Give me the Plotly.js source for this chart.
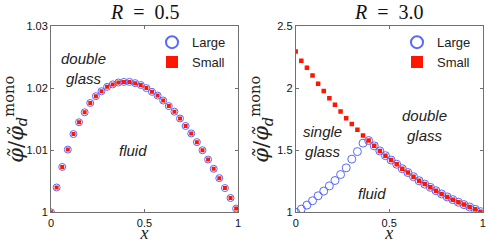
<!DOCTYPE html>
<html><head><meta charset="utf-8">
<script src="https://cdn.plot.ly/plotly-3.0.1.min.js"></script>
<style>html,body{margin:0;padding:0;background:#fff}#chart{width:491px;height:243px}</style>
</head><body><div id="chart"></div>
<script>
const xValues = [0,0.03,0.06,0.09,0.12,0.15,0.18,0.21,0.24,0.27,0.30,0.33,0.36,0.39,0.42,0.45,0.48,0.51,0.54,0.57,0.60,0.63,0.66,0.69,0.72,0.75,0.78,0.81,0.84,0.87,0.90,0.93,0.96,0.99];

// R = 0.5 panel
const leftLarge = [1.0000,1.0040,1.0073,1.0101,1.0126,1.0145,1.0161,1.0176,1.0187,1.0195,1.0202,1.0206,1.0209,1.0210,1.0210,1.0208,1.0205,1.0200,1.0194,1.0188,1.0180,1.0171,1.0162,1.0151,1.0139,1.0127,1.0113,1.0100,1.0085,1.0070,1.0055,1.0039,1.0023,1.0006];
const leftSmall = [1.0000,1.0040,1.0073,1.0101,1.0126,1.0145,1.0161,1.0176,1.0187,1.0195,1.0202,1.0206,1.0209,1.0210,1.0210,1.0208,1.0205,1.0200,1.0194,1.0188,1.0180,1.0171,1.0162,1.0151,1.0139,1.0127,1.0113,1.0100,1.0085,1.0070,1.0055,1.0039,1.0023,1.0006];

// R = 3.0 panel
const rightLarge = [1.000,1.026,1.058,1.093,1.133,1.171,1.213,1.256,1.304,1.358,1.428,1.489,1.557,1.578,1.535,1.494,1.456,1.421,1.387,1.351,1.320,1.287,1.254,1.227,1.201,1.174,1.148,1.124,1.102,1.081,1.062,1.043,1.024,1.005];
const rightSmall = [2.294,2.221,2.163,2.101,2.036,1.977,1.919,1.865,1.811,1.758,1.710,1.664,1.618,1.578,1.535,1.494,1.456,1.421,1.387,1.351,1.320,1.287,1.254,1.227,1.201,1.174,1.148,1.124,1.102,1.081,1.062,1.043,1.024,1.005];

const seriesNames = ['Large', 'Small'];
const panelTitles = ['<i>R</i>\u2002=\u20020.5', '<i>R</i>\u2002=\u20023.0'];
const xTickVals = [0, 0.5, 1];
const leftYTicks = [1, 1.01, 1.02, 1.03];
const rightYTicks = [1, 1.5, 2, 2.5];
const regionLabels = ['<i>double</i><br><i>glass</i>', '<i>fluid</i>', '<i>single</i><br><i>glass</i>', '<i>double</i><br><i>glass</i>', '<i>fluid</i>'];

const blue = '#5868ff';
const red = '#ff1500';
const sans = 'Liberation Sans, Arial, sans-serif';
const serif = 'Liberation Serif, Times New Roman, serif';
const dserif = 'DejaVu Serif, serif';

function largeTrace(y, xa, ya, lg, size) {
  return {x: xValues, y: y, xaxis: xa, yaxis: ya, legend: lg, name: seriesNames[0], type: 'scatter', mode: 'markers',
    marker: {symbol: 'circle-open', size: size, color: blue, line: {width: 1}}};
}
function smallTrace(y, xa, ya, lg, size) {
  return {x: xValues, y: y, xaxis: xa, yaxis: ya, legend: lg, name: seriesNames[1], type: 'scatter', mode: 'markers',
    marker: {symbol: 'square', size: size, color: red, line: {width: 0}}};
}

const data = [
  largeTrace(leftLarge, 'x', 'y', 'legend', 7),
  smallTrace(leftSmall, 'x', 'y', 'legend', 4),
  largeTrace(rightLarge, 'x2', 'y2', 'legend2', 8),
  smallTrace(rightSmall, 'x2', 'y2', 'legend2', 4.5)
];

const axisBase = {showline: true, mirror: 'ticks', linecolor: '#707070', linewidth: 1, ticks: 'inside', ticklen: 3,
  tickcolor: '#707070', showgrid: false, zeroline: false, tickfont: {family: sans, size: 11, color: '#111'}};
const yTitle = {text: '<i>φ̃</i>/<i>φ̃</i><sub><i>d</i></sub><sup>mono</sup>', font: {family: dserif, size: 21, color: '#222'}, standoff: 2};
const xTitle = {text: '<i>x</i>', font: {family: serif, size: 18, color: '#222'}, standoff: 1};

const yDom = [0.1263, 0.893];
const layout = {
  width: 491, height: 243, margin: {l: 0, r: 0, t: 0, b: 0}, paper_bgcolor: '#fff', plot_bgcolor: '#fff',
  xaxis: Object.assign({}, axisBase, {domain: [51/491, 238/491], range: [0, 1], tickvals: xTickVals, anchor: 'y', title: xTitle}),
  yaxis: Object.assign({}, axisBase, {domain: yDom, range: [1, 1.03], tickvals: leftYTicks, anchor: 'x', title: yTitle}),
  xaxis2: Object.assign({}, axisBase, {domain: [295.7/491, 482.7/491], range: [0, 1], tickvals: xTickVals, anchor: 'y2', title: xTitle}),
  yaxis2: Object.assign({}, axisBase, {domain: yDom, range: [1, 2.5], tickvals: rightYTicks, anchor: 'x2', title: yTitle}),
  legend: {x: 231/491, xanchor: 'right', y: 0.888, yanchor: 'top', bgcolor: 'rgba(0,0,0,0)', itemsizing: 'constant',
    font: {family: sans, size: 13, color: '#222'}, tracegroupgap: 0},
  legend2: {x: 476/491, xanchor: 'right', y: 0.888, yanchor: 'top', bgcolor: 'rgba(0,0,0,0)', itemsizing: 'constant',
    font: {family: sans, size: 13, color: '#222'}, tracegroupgap: 0},
  showlegend: true,
  annotations: [
    {xref: 'paper', yref: 'paper', x: 144.5/491, y: (243-12)/243, text: panelTitles[0], showarrow: false, xanchor: 'center', yanchor: 'middle', font: {family: serif, size: 20, color: '#111'}},
    {xref: 'paper', yref: 'paper', x: 389.2/491, y: (243-12)/243, text: panelTitles[1], showarrow: false, xanchor: 'center', yanchor: 'middle', font: {family: serif, size: 20, color: '#111'}},
    {xref: 'x', yref: 'y', x: 0.174, y: 1.0231, text: regionLabels[0], showarrow: false, font: {family: sans, size: 15, color: '#222'}},
    {xref: 'x', yref: 'y', x: 0.44, y: 1.0100, text: regionLabels[1], showarrow: false, font: {family: sans, size: 15, color: '#222'}},
    {xref: 'x2', yref: 'y2', x: 0.143, y: 1.571, text: regionLabels[2], showarrow: false, font: {family: sans, size: 15, color: '#222'}},
    {xref: 'x2', yref: 'y2', x: 0.689, y: 1.696, text: regionLabels[3], showarrow: false, font: {family: sans, size: 15, color: '#222'}},
    {xref: 'x2', yref: 'y2', x: 0.41, y: 1.149, text: regionLabels[4], showarrow: false, font: {family: sans, size: 15, color: '#222'}}
  ]
};

Plotly.newPlot('chart', data, layout, {staticPlot: true, displayModeBar: false});
</script>
</body></html>
